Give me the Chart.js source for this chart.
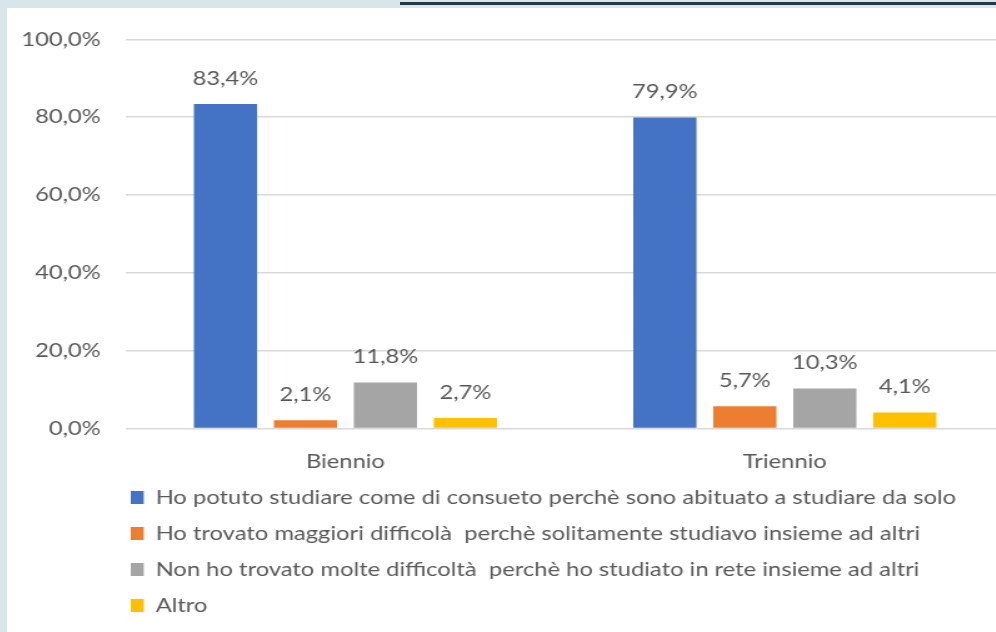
<!DOCTYPE html>
<html>
<head>
<meta charset="utf-8">
<script src="https://cdn.jsdelivr.net/npm/chart.js@4"></script>
<style>
  html, body { margin: 0; padding: 0; }
  body { width: 996px; height: 632px; overflow: hidden; background: #d8e6ec; position: relative; }
  .topline { position: absolute; left: 400px; top: 2px; width: 600px; height: 3px; background: #23394a; }
  .panel { position: absolute; left: 7px; top: 8px; width: 1000px; height: 624px; background: #fff; }
  /* the reference is a horizontally stretched screenshot */
  #chart { transform: scaleX(1.25); transform-origin: 0 0; }
</style>
</head>
<body>
<div class="topline"></div>
<div class="panel"><canvas id="chart" width="800" height="624"></canvas></div>
<script>
const categories = ['Biennio', 'Triennio'];
const seriesNames = [
  'Ho potuto studiare come di consueto perchè sono abituato a studiare da solo',
  'Ho trovato maggiori difficolà  perchè solitamente studiavo insieme ad altri',
  'Non ho trovato molte difficoltà  perchè ho studiato in rete insieme ad altri',
  'Altro'
];
const studioSolo = [83.4, 79.9];
const maggioriDifficolta = [2.1, 5.7];
const studioInRete = [11.8, 10.3];
const altro = [2.7, 4.1];
const colors = ['#4472C4', '#ED7D31', '#A5A5A5', '#FFC000'];

const fmt = (v) => v.toFixed(1).replace('.', ',') + '%';
const textColor = '#595959';
const fontFamily = 'Lato, sans-serif';
const fontSize = 19;

// value labels above each bar
const barLabels = {
  id: 'barLabels',
  afterDatasetsDraw(chart) {
    const ctx = chart.ctx;
    ctx.save();
    ctx.font = fontSize + 'px ' + fontFamily;
    ctx.fillStyle = textColor;
    ctx.textAlign = 'center';
    ctx.textBaseline = 'bottom';
    chart.data.datasets.forEach((ds, i) => {
      chart.getDatasetMeta(i).data.forEach((bar, j) => {
        ctx.fillText(fmt(ds.data[j]), bar.x, bar.y - 16);
      });
    });
    ctx.restore();
  }
};

// one legend entry per row, rows starting under the plot
const legendRows = {
  id: 'legendRows',
  beforeLayout(chart) {
    const lg = chart.legend;
    if (lg && !lg._onePerRow) {
      const update = lg.update.bind(lg);
      lg.update = (mw, mh, margins) => { update(1, mh, margins); lg.width = mw; };
      const draw = lg._draw.bind(lg);
      lg._draw = () => { const r = lg.right; lg.right = lg.left + 1; draw(); lg.right = r; };
      lg._onePerRow = true;
    }
  },
  afterLayout(chart) {
    chart.legend.left = 82;
  }
};

const datasets = [studioSolo, maggioriDifficolta, studioInRete, altro].map((d, i) => ({
  label: seriesNames[i],
  data: d,
  backgroundColor: colors[i],
  categoryPercentage: 0.728,
  barPercentage: 0.79
}));

new Chart(document.getElementById('chart'), {
  type: 'bar',
  data: { labels: categories, datasets },
  options: {
    responsive: false,
    animation: false,
    layout: { padding: { left: 0, right: 2, top: 31, bottom: 7 } },
    plugins: {
      legend: {
        position: 'bottom',
        align: 'start',
        labels: {
          boxWidth: 10.4,
          boxHeight: 13,
          padding: 17,
          color: textColor,
          font: { size: fontSize, family: fontFamily }
        }
      },
      tooltip: { enabled: false }
    },
    scales: {
      x: {
        grid: { display: false, drawTicks: false },
        border: { display: false },
        ticks: { color: textColor, padding: 22, font: { size: fontSize, family: fontFamily } },
        afterFit: (axis) => { axis.height = 42.5; }
      },
      y: {
        min: 0,
        max: 100,
        grid: { color: '#d9d9d9', lineWidth: 1.5, drawTicks: false },
        border: { display: false },
        ticks: {
          stepSize: 20,
          padding: 20,
          color: textColor,
          font: { size: fontSize, family: fontFamily },
          callback: (v) => fmt(v)
        },
        afterFit: (axis) => { axis.width = 95; }
      }
    }
  },
  plugins: [barLabels, legendRows]
});
</script>
</body>
</html>
